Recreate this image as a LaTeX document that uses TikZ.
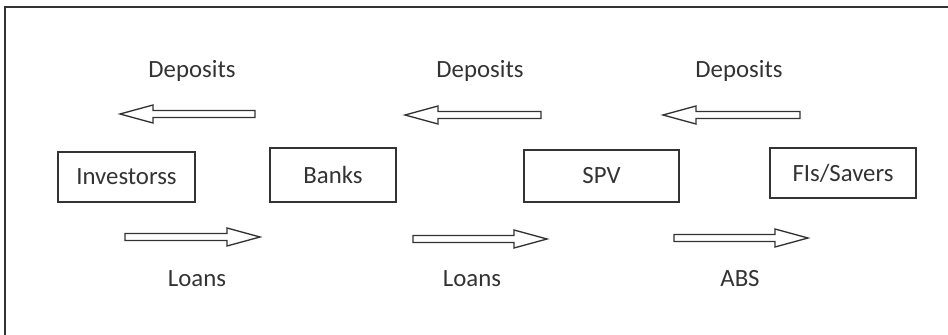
\documentclass[tikz,border=0pt]{standalone}
\usepackage{fontspec}
\setmainfont{Carlito}
\usetikzlibrary{positioning,calc}
\definecolor{ink}{HTML}{333333}
\tikzset{
  party/.style={draw=ink, line width=1.1pt, text=ink, inner sep=0pt,
    font=\fontsize{18.6}{22}\selectfont},
  flowlabel/.style={text=ink, inner sep=0pt, font=\fontsize{18.6}{22}\selectfont},
  flow/.style={draw=ink, line width=1pt, fill=white, line join=miter}
}
% hollow block arrow from #1 (tail) to #2 (tip)
\newcommand{\blockarrow}[2]{%
  \draw[flow] ($(#1)+(0,3.5)$) -- ($(#2)!24.75pt!(#1)+(0,3.5)$)
    -- ($(#2)!24.75pt!(#1)+(0,9)$) -- (#2)
    -- ($(#2)!24.75pt!(#1)+(0,-9)$) -- ($(#2)!24.75pt!(#1)+(0,-3.5)$)
    -- ($(#1)+(0,-3.5)$) -- cycle;}

\begin{document}
\begin{tikzpicture}[x=0.75pt,y=-0.75pt]
      \useasboundingbox (0,0) rectangle (948,335);
      \draw[ink, line width=1.4pt] (5,335) -- (5,7) -- (948,7);

      \node[party, minimum width=102.75pt, minimum height=37.5pt] (investors) at (126.5,177) {Investorss};
      \node[party, minimum width=94.5pt,   minimum height=40.5pt] (banks)     at (333,175)   {Banks};
      \node[party, minimum width=116.25pt, minimum height=39pt]   (spv)       at (601.5,176) {SPV};
      \node[party, minimum width=109.5pt,  minimum height=37.5pt] (savers)    at (843,173)   {FIs/Savers};

      \node[flowlabel] (dep1) at (192,71) {Deposits};
      \node[flowlabel] (dep2) at (480,71) {Deposits};
      \node[flowlabel] (dep3) at (739,71) {Deposits};
      \node[flowlabel] (loan1) at (197,279) {Loans};
      \node[flowlabel] (loan2) at (472,279) {Loans};
      \node[flowlabel] (abs)   at (740,279) {ABS};

      \coordinate (d1a) at (255,114); \coordinate (d1b) at (120,114);
      \coordinate (d2a) at (541,115); \coordinate (d2b) at (405,115);
      \coordinate (d3a) at (800,115); \coordinate (d3b) at (663,115);
      \coordinate (l1a) at (125,237); \coordinate (l1b) at (260,237);
      \coordinate (l2a) at (413,239); \coordinate (l2b) at (547,239);
      \coordinate (l3a) at (674,238); \coordinate (l3b) at (808,238);

      \blockarrow{d1a}{d1b}
      \blockarrow{d2a}{d2b}
      \blockarrow{d3a}{d3b}
      \blockarrow{l1a}{l1b}
      \blockarrow{l2a}{l2b}
      \blockarrow{l3a}{l3b}
\end{tikzpicture}
\end{document}
